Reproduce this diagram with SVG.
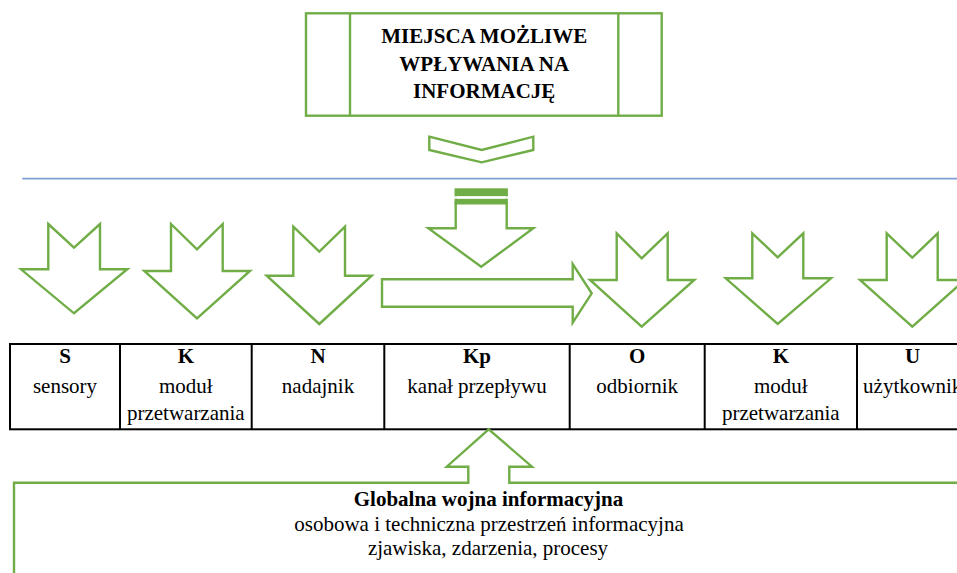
<svg xmlns="http://www.w3.org/2000/svg" width="957" height="573" viewBox="0 0 957 573">
<style>
.g{fill:#ffffff;stroke:#70ad47;stroke-width:2.4;stroke-linejoin:miter}
.gf{fill:#70ad47;stroke:none}
.t{font-family:"Liberation Serif","Times New Roman",serif;font-size:21px;fill:#000;text-anchor:middle}
.b{font-weight:bold}
.cell{fill:#fff;stroke:#000;stroke-width:2}
</style>
<rect width="957" height="573" fill="#fff"/>

<g id="title-box">
<rect class="g" x="306" y="13.3" width="355.7" height="102.4"/>
<line class="g" x1="350" y1="13.3" x2="350" y2="115.7"/>
<line class="g" x1="618.3" y1="13.3" x2="618.3" y2="115.7"/>
<text class="t b" x="484.2" y="43.3">MIEJSCA MOŻLIWE</text>
<text class="t b" x="484.2" y="71">WPŁYWANIA NA</text>
<text class="t b" x="484.2" y="97.7">INFORMACJĘ</text>
</g>

<g id="connectors">
<polygon id="chevron" class="g" points="429.3,136.7 481.7,150 533.3,136.7 533.3,150 481.7,162.3 429.3,150"/>
<line id="separator" x1="22.3" y1="178.7" x2="957" y2="178.7" stroke="#7f9fd6" stroke-width="1.8"/>

<g id="striped-down-arrow">
<rect class="gf" x="454.5" y="188.3" width="53.4" height="8"/>
<rect class="gf" x="454.5" y="198.6" width="53.4" height="5.8"/>
<rect x="457" y="196.3" width="48.4" height="2.3" fill="#fff"/>
<polygon class="g" points="455.7,203.3 506.7,203.3 506.7,228.3 533.3,228.3 481.2,266.7 428.3,228.3 455.7,228.3"/>
</g>

<polygon id="channel-arrow" class="g" points="382,279.3 572.7,279.3 572.7,264 591.7,293.3 572.7,322.7 572.7,306.7 382,306.7"/>

<polygon id="arrow-S" class="g" points="48.3,224 74,247.7 100,224 100,269.3 127.3,269.3 74,313.3 21,269.3 48.3,269.3"/>
<polygon id="arrow-K1" class="g" points="171,224 197,249.3 222.7,224 222.7,271 250,271 197,318.3 144.3,271 171,271"/>
<polygon id="arrow-N" class="g" points="293.3,226.7 319.3,251.7 345,226.7 345,275.7 371.7,275.7 319.3,324 266.7,275.7 293.3,275.7"/>
<polygon id="arrow-O" class="g" points="616.7,233.3 641.7,258.3 667.7,233.3 667.7,280 694.3,280 641.7,326.7 590,280 616.7,280"/>
<polygon id="arrow-K2" class="g" points="752.3,233.3 777.7,257.3 803.3,233.3 803.3,278.3 831,278.3 777.7,324 725.7,278.3 752.3,278.3"/>
<polygon id="arrow-U" class="g" points="886.7,233.3 912.3,257.7 937.7,233.3 937.7,280 964.7,280 912.3,326.7 860,280 886.7,280"/>
</g>

<g id="table">
<rect class="cell" x="10" y="344" width="970" height="85.3"/>
<line class="cell" x1="120" y1="344" x2="120" y2="429.3"/>
<line class="cell" x1="251.7" y1="344" x2="251.7" y2="429.3"/>
<line class="cell" x1="384.3" y1="344" x2="384.3" y2="429.3"/>
<line class="cell" x1="569.7" y1="344" x2="569.7" y2="429.3"/>
<line class="cell" x1="704.7" y1="344" x2="704.7" y2="429.3"/>
<line class="cell" x1="857" y1="344" x2="857" y2="429.3"/>
</g>

<g id="node-S">
<text class="t b" x="65" y="363.3">S</text>
<text class="t" x="65" y="392.7">sensory</text>
</g>
<g id="node-K1">
<text class="t b" x="185.8" y="363.3">K</text>
<text class="t" x="185.8" y="392.7">moduł</text>
<text class="t" x="185.8" y="420">przetwarzania</text>
</g>
<g id="node-N">
<text class="t b" x="318" y="363.3">N</text>
<text class="t" x="318" y="392.7">nadajnik</text>
</g>
<g id="node-Kp">
<text class="t b" x="477" y="363.3">Kp</text>
<text class="t" x="477" y="392.7">kanał przepływu</text>
</g>
<g id="node-O">
<text class="t b" x="637.2" y="363.3">O</text>
<text class="t" x="637.2" y="392.7">odbiornik</text>
</g>
<g id="node-K2">
<text class="t b" x="780.8" y="363.3">K</text>
<text class="t" x="780.8" y="392.7">moduł</text>
<text class="t" x="780.8" y="420">przetwarzania</text>
</g>
<g id="node-U">
<text class="t b" x="912.7" y="363.3">U</text>
<text class="t" x="912.7" y="392.7">użytkownik</text>
</g>

<g id="global-callout">
<polygon class="g" points="14,600 14,482.7 468.3,482.7 468.3,466.7 446.7,466.7 488.7,429.3 532,466.7 509.3,466.7 509.3,482.7 975,482.7 975,600"/>
<text class="t b" x="488.5" y="506">Globalna wojna informacyjna</text>
<text class="t" x="489" y="531">osobowa i techniczna przestrzeń informacyjna</text>
<text class="t" x="488" y="555">zjawiska, zdarzenia, procesy</text>
</g>
</svg>
